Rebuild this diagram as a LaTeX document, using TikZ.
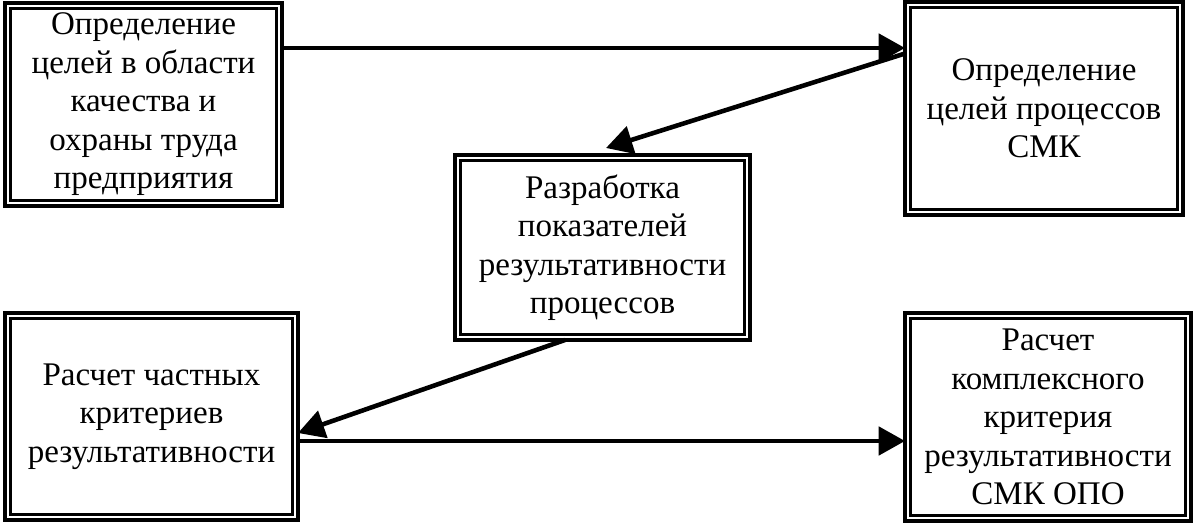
\documentclass[tikz,border=0pt]{standalone}
\usepackage{fontspec}
\setmainfont{Liberation Serif}
\usetikzlibrary{arrows.meta}

\begin{document}
\begin{tikzpicture}[x=0.02cm,y=-0.02cm,
  >={Triangle[length=15pt,width=16pt]},
  blk/.style={draw,line width=2.3pt,outer sep=0pt,inner sep=0pt,align=center,
              font=\fontsize{18.8pt}{21.9pt}\selectfont},
  arr/.style={->,line width=2.6pt}]
\useasboundingbox (0,0) rectangle (1200,526);
\node[blk,minimum width=5.54cm,minimum height=4.06cm] (goals) at (143.5,104.5)
  {Определение\\целей в области\\качества и\\охраны труда\\предприятия};
\node[blk,minimum width=5.56cm,minimum height=4.26cm] (procgoals) at (1044,108.5)
  {Определение\\целей процессов\\СМК};
\node[blk,minimum width=5.9cm,minimum height=3.7cm] (kpi) at (602.5,247.5)
  {Разработка\\показателей\\результативности\\процессов};
\node[blk,minimum width=5.86cm,minimum height=4.14cm] (partial) at (151.5,416.5)
  {Расчет частных\\критериев\\результативности};
\node[blk,minimum width=5.72cm,minimum height=4.16cm] (complex) at (1048,417)
  {Расчет\\комплексного\\критерия\\результативности\\СМК ОПО};
% inner line of the double frames
\foreach \n in {goals,procgoals,kpi,partial,complex}
  \draw[line width=1.5pt] ([shift={(3.1pt,3.1pt)}]\n.south west)
    rectangle ([shift={(-3.1pt,-3.1pt)}]\n.north east);
\draw[arr] ([yshift=1.13cm]goals.east) -- ([yshift=1.13cm]goals.east -| procgoals.west);
\draw[arr] ([yshift=1.1cm]procgoals.west) -- ([shift={(2pt,4pt)}]kpi.north);
\draw[arr] ([xshift=-0.75cm]kpi.south) -- ([yshift=-0.33cm]partial.east);
\draw[arr] ([yshift=-0.49cm]partial.east) -- ([yshift=-0.49cm]partial.east -| complex.west);
\end{tikzpicture}
\end{document}
